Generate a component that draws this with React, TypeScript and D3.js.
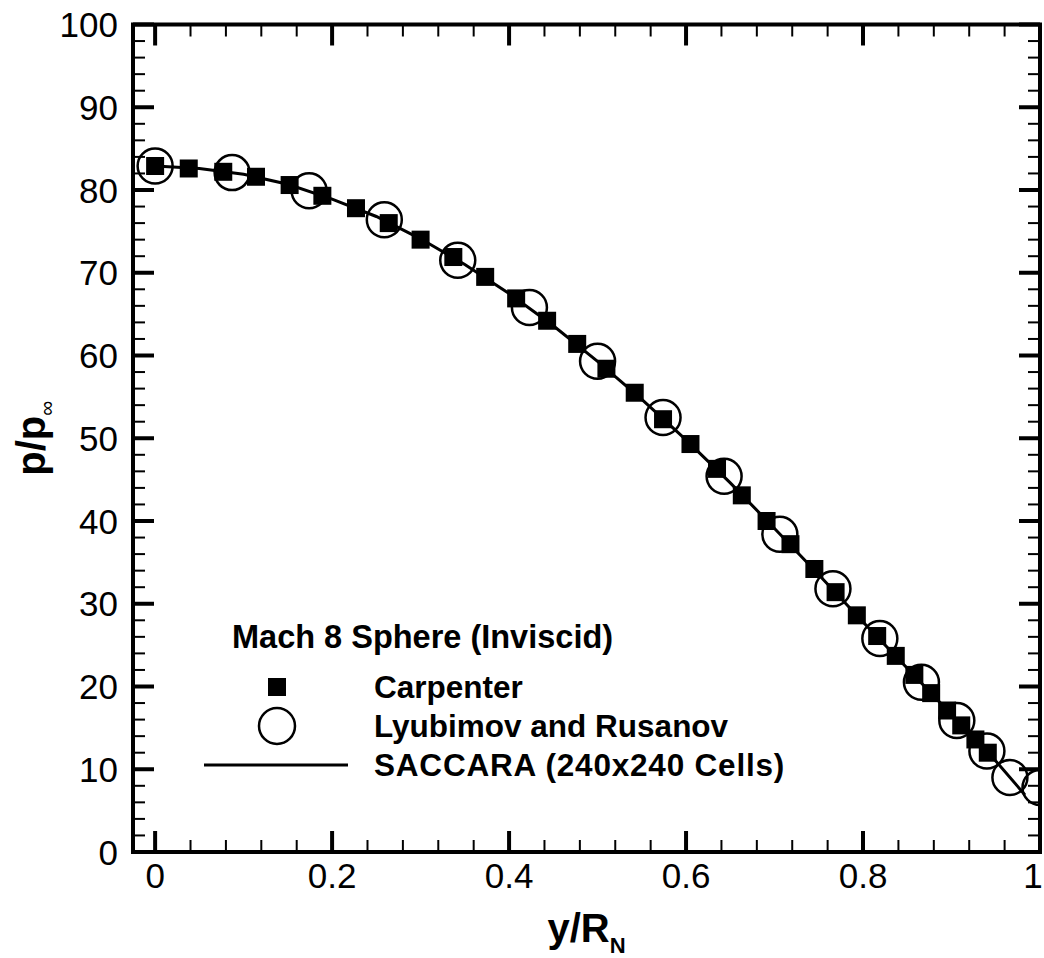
import React from "react";
import * as d3 from "d3";

// Carpenter (filled squares)
const carpenterX = [0, 0.038, 0.077, 0.114, 0.152, 0.189, 0.227, 0.264, 0.3, 0.337, 0.373, 0.408, 0.443, 0.477, 0.51, 0.542, 0.574, 0.605, 0.635, 0.663, 0.691, 0.718, 0.745, 0.769, 0.793, 0.816, 0.837, 0.858, 0.877, 0.895, 0.911, 0.927, 0.941];
const carpenterY = [82.9, 82.6, 82.2, 81.6, 80.6, 79.3, 77.8, 76.0, 74.0, 71.9, 69.5, 66.9, 64.2, 61.4, 58.4, 55.5, 52.3, 49.3, 46.3, 43.1, 40.0, 37.2, 34.2, 31.4, 28.6, 26.1, 23.7, 21.4, 19.2, 17.1, 15.3, 13.6, 12.0];

// Lyubimov and Rusanov (open circles)
const lyubimovX = [0, 0.087, 0.174, 0.259, 0.342, 0.423, 0.5, 0.574, 0.643, 0.706, 0.766, 0.819, 0.866, 0.906, 0.94, 0.966, 1.0];
const lyubimovY = [82.9, 82.1, 79.9, 76.4, 71.5, 65.8, 59.3, 52.5, 45.4, 38.4, 31.8, 25.8, 20.5, 15.9, 12.2, 9.0, 7.8];

// SACCARA (240x240 Cells) solid line
const saccaraX = [0, 0.05, 0.1, 0.15, 0.2, 0.25, 0.3, 0.35, 0.4, 0.45, 0.5, 0.55, 0.6, 0.65, 0.7, 0.75, 0.8, 0.85, 0.9, 0.95, 0.983];
const saccaraY = [82.9, 82.6, 81.9, 80.7, 78.9, 76.8, 74.1, 71.0, 67.5, 63.6, 59.3, 54.7, 49.8, 44.6, 39.1, 33.5, 27.8, 22.2, 16.6, 11.0, 6.9];

const xTicks = [0, 0.2, 0.4, 0.6, 0.8, 1];
const xTickLabels = ["0", "0.2", "0.4", "0.6", "0.8", "1"];
const yTicks = [0, 10, 20, 30, 40, 50, 60, 70, 80, 90, 100];
const yTickLabels = ["0", "10", "20", "30", "40", "50", "60", "70", "80", "90", "100"];

const legendTitle = "Mach 8 Sphere (Inviscid)";
const legendLabels = ["Carpenter", "Lyubimov and Rusanov", "SACCARA (240x240 Cells)"];

const FONT = "'Liberation Sans', Arial, Helvetica, sans-serif";

export default function App() {
  const W = 1044, H = 958;
  const L = 133, R = 1040, T = 24.5, B = 852;
  const x = d3.scaleLinear().domain([-0.025, 1]).range([L, R]);
  const y = d3.scaleLinear().domain([0, 100]).range([B, T]);

  const xMinor = d3.range(0, 1.0001, 0.04).filter((v) => !xTicks.some((t) => Math.abs(t - v) < 1e-6));
  const yMinor = d3.range(0, 100.001, 2).filter((v) => !yTicks.some((t) => Math.abs(t - v) < 1e-6));

  const line = d3.line<number>().x((_, i) => x(saccaraX[i])).y((d) => y(d));
  const sq = 18;
  const cr = 17.5;
  const majLen = 21, minLen = 12;

  return (
    <svg width={W} height={H} style={{ position: "absolute", left: 0, top: 0, background: "#fff" }} fontFamily={FONT}>
      <defs>
        <clipPath id="plotclip">
          <rect x={L} y={T} width={R - L} height={B - T} />
        </clipPath>
      </defs>
      <rect x={0} y={0} width={W} height={H} fill="#fff" />

      {/* ticks */}
      <g stroke="#000">
        {xTicks.map((t) => (
          <g key={"xt" + t} strokeWidth={4}>
            <line x1={x(t)} x2={x(t)} y1={B} y2={B - majLen} />
            <line x1={x(t)} x2={x(t)} y1={T} y2={T + majLen} />
          </g>
        ))}
        {xMinor.map((t) => (
          <g key={"xm" + t} strokeWidth={2}>
            <line x1={x(t)} x2={x(t)} y1={B} y2={B - minLen} />
            <line x1={x(t)} x2={x(t)} y1={T} y2={T + minLen} />
          </g>
        ))}
        {yTicks.map((t) => (
          <g key={"yt" + t} strokeWidth={4}>
            <line x1={L} x2={L + majLen} y1={y(t)} y2={y(t)} />
            <line x1={R} x2={R - majLen} y1={y(t)} y2={y(t)} />
          </g>
        ))}
        {yMinor.map((t) => (
          <g key={"ym" + t} strokeWidth={2}>
            <line x1={L} x2={L + minLen} y1={y(t)} y2={y(t)} />
            <line x1={R} x2={R - minLen} y1={y(t)} y2={y(t)} />
          </g>
        ))}
      </g>

      {/* data */}
      <g clipPath="url(#plotclip)">
        <path d={line(saccaraY) || ""} fill="none" stroke="#000" strokeWidth={3} />
        {lyubimovX.map((v, i) => (
          <circle key={"c" + i} cx={x(v)} cy={y(lyubimovY[i])} r={cr} fill="none" stroke="#000" strokeWidth={2.5} />
        ))}
        {carpenterX.map((v, i) => (
          <rect key={"s" + i} x={x(v) - sq / 2} y={y(carpenterY[i]) - sq / 2} width={sq} height={sq} fill="#000" />
        ))}
      </g>

      {/* frame */}
      <rect x={L} y={T} width={R - L} height={B - T} fill="none" stroke="#000" strokeWidth={4} />

      {/* tick labels */}
      {xTicks.map((t, i) => (
        <text key={"xl" + t} x={i === xTicks.length - 1 ? 1033 : x(t)} y={888} fontSize={35} textAnchor="middle" fill="#000">{xTickLabels[i]}</text>
      ))}
      {yTicks.map((t, i) => (
        <text key={"yl" + t} x={118} y={y(t) + 12.5} fontSize={35} textAnchor="end" fill="#000">{yTickLabels[i]}</text>
      ))}

      {/* axis titles */}
      <text x={(L + R) / 2} y={942} fontSize={40} fontWeight="bold" textAnchor="middle" fill="#000">
        y/R<tspan fontSize={22} dy={11}>N</tspan>
      </text>
      <text transform={`translate(45, ${(T + B) / 2}) rotate(-90)`} fontSize={40} fontWeight="bold" textAnchor="middle" fill="#000">
        p/p<tspan fontSize={21} fontWeight="normal" dy={9}>∞</tspan>
      </text>

      {/* legend */}
      <g fill="#000">
        <text x={232} y={648} fontSize={32.5} fontWeight="bold">{legendTitle}</text>
        <rect x={277 - sq / 2} y={687 - sq / 2} width={sq} height={sq} />
        <circle cx={277} cy={726} r={18} fill="none" stroke="#000" strokeWidth={2.5} />
        <line x1={204} x2={348} y1={765} y2={765} stroke="#000" strokeWidth={3} />
        <text x={374} y={698} fontSize={31.5} fontWeight="bold">{legendLabels[0]}</text>
        <text x={374} y={737} fontSize={31.5} fontWeight="bold">{legendLabels[1]}</text>
        <text x={374} y={776} fontSize={31.5} fontWeight="bold" letterSpacing={0.8}>{legendLabels[2]}</text>
      </g>
    </svg>
  );
}
